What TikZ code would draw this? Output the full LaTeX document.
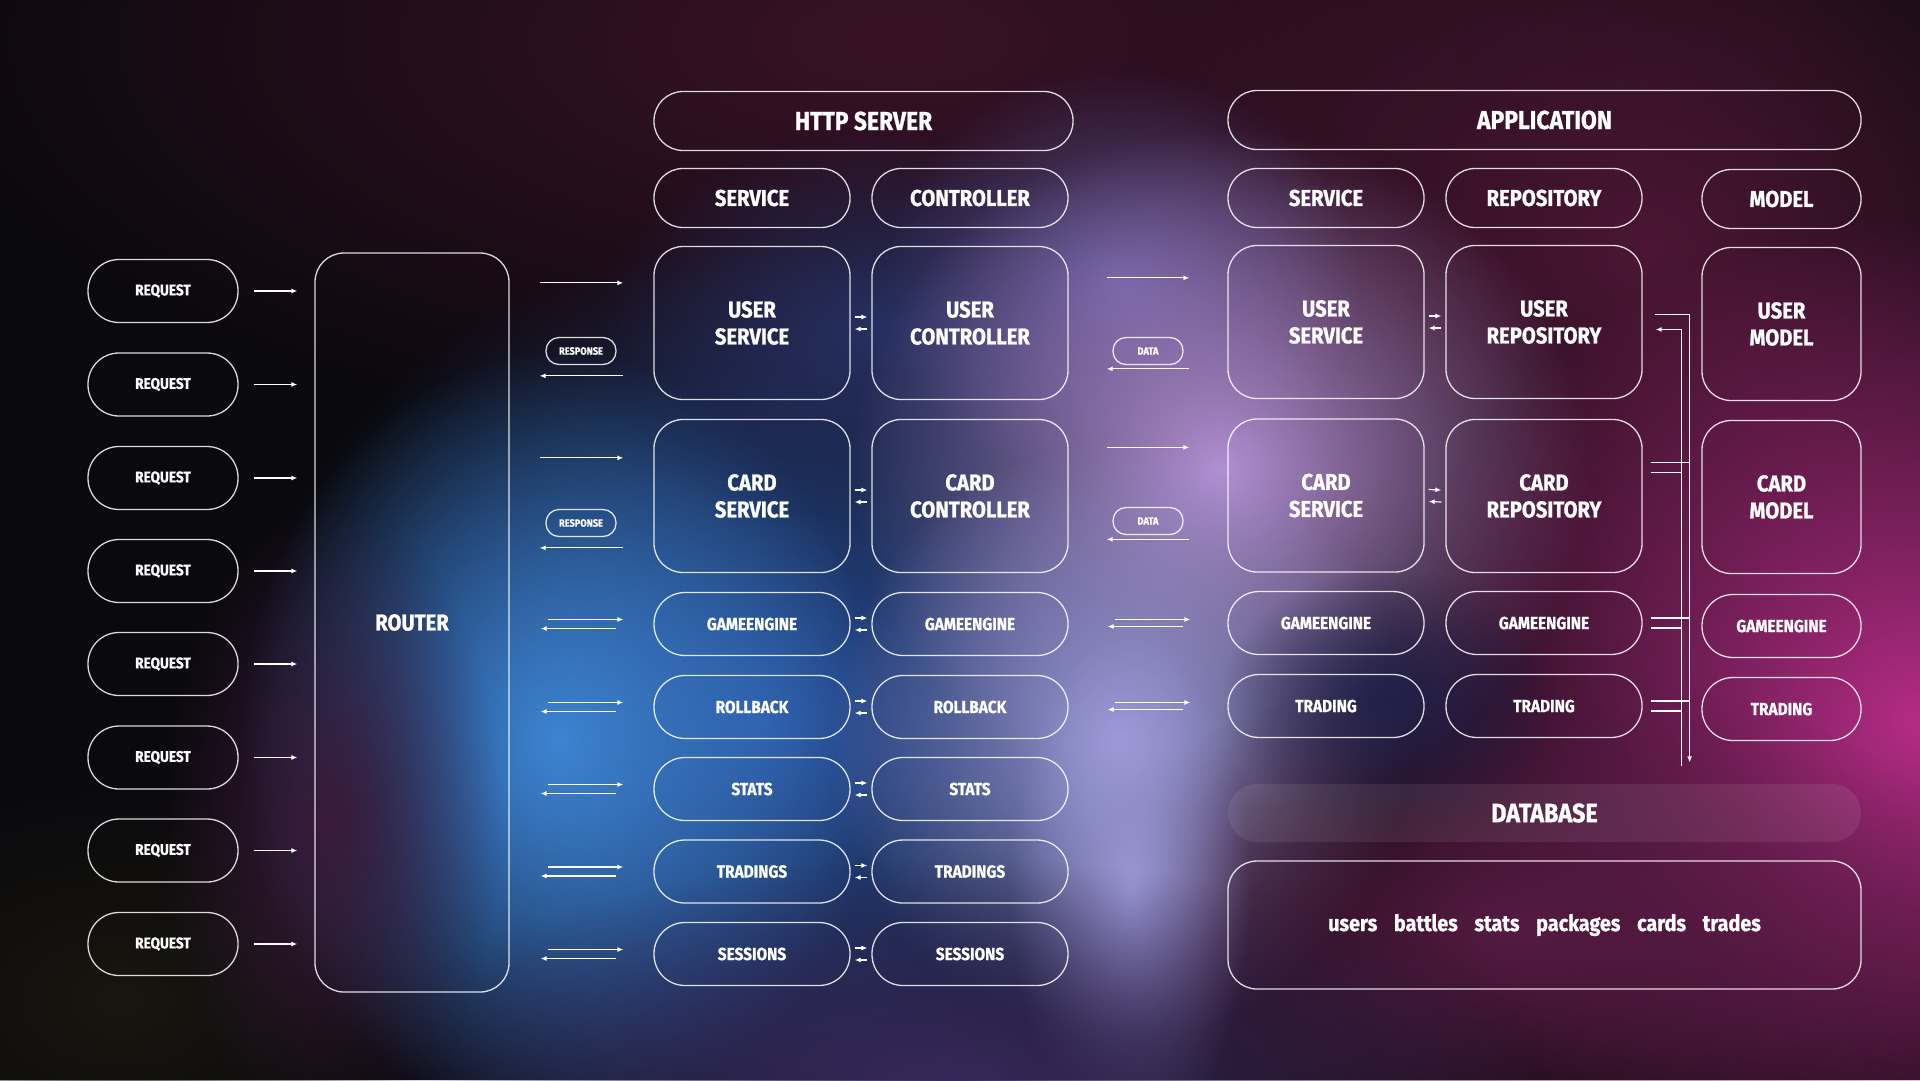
\documentclass[tikz,border=0pt]{standalone}
\usepackage{fontspec}
\setmainfont{Fira Sans}[FakeStretch=0.88, FakeBold=1.2]
\usetikzlibrary{arrows.meta,calc,fadings}

\definecolor{bgbase}{HTML}{0A090D}
\definecolor{maroon}{HTML}{3A1228}
\definecolor{wine}{HTML}{4C1634}
\definecolor{skyblue}{HTML}{3D84D2}
\definecolor{deepblue}{HTML}{2A52A0}
\definecolor{inkblue}{HTML}{263062}
\definecolor{lavender}{HTML}{B390D4}
\definecolor{periwinkle}{HTML}{9C9AD8}
\definecolor{haze}{HTML}{5A5090}
\definecolor{magenta}{HTML}{B52C86}
\definecolor{berry}{HTML}{561A42}
\definecolor{navy}{HTML}{22204A}
\definecolor{plum}{HTML}{38285A}
\definecolor{rosewood}{HTML}{3A1A3A}
\definecolor{olive}{HTML}{17160F}

\tikzfading[name=glow, inner color=transparent!0, outer color=transparent!100]

\tikzset{
  frame/.style={draw=white, draw opacity=0.85, line width=1.3pt, text=white,
    align=center, inner sep=0pt, rounded corners=29pt},
  bigbox/.style={frame, minimum width=196pt, minimum height=153pt,
    font=\bfseries\fontsize{23}{27}\selectfont},
  header/.style={frame, minimum height=59pt, font=\bfseries\fontsize{23}{27}\selectfont},
  topheader/.style={header, font=\bfseries\fontsize{26}{30}\selectfont},
  pill/.style={frame, minimum width=196pt, minimum height=63pt, rounded corners=31pt,
    font=\bfseries\fontsize{17.5}{20}\selectfont},
  request/.style={pill, minimum width=150pt, font=\bfseries\fontsize{15.5}{18}\selectfont},
  tag/.style={frame, minimum width=70pt, minimum height=27pt, rounded corners=13pt,
    font=\bfseries\fontsize{10.5}{12}\selectfont},
  flow/.style={draw=white, line width=1.2pt, ->, >={Latex[length=6pt,width=5pt]}},
  bus/.style={draw=white, line width=1.2pt}
}

\begin{document}
\begin{tikzpicture}[x=1pt, y=-1pt]
    % Фон
    \useasboundingbox (0,0) rectangle (1920,1080);
    \fill[bgbase] (0,0) rectangle (1920,1080);
    \fill[olive, path fading=glow] (120,1000) ellipse [x radius=320pt, y radius=220pt];
    \fill[maroon, path fading=glow] (900,40) ellipse [x radius=1000pt, y radius=420pt];
    \fill[wine, path fading=glow] (1650,250) ellipse [x radius=560pt, y radius=500pt];
    \fill[deepblue, path fading=glow] (760,720) ellipse [x radius=520pt, y radius=480pt];
    \fill[skyblue, path fading=glow] (560,740) ellipse [x radius=320pt, y radius=390pt];
    \fill[rosewood, path fading=glow] (330,820) ellipse [x radius=170pt, y radius=320pt];
    \fill[inkblue, path fading=glow] (880,330) ellipse [x radius=280pt, y radius=200pt];
    \fill[haze, path fading=glow] (1120,280) ellipse [x radius=240pt, y radius=210pt];
    \fill[lavender, path fading=glow] (1220,470) ellipse [x radius=370pt, y radius=340pt];
    \fill[periwinkle, path fading=glow] (1120,740) ellipse [x radius=290pt, y radius=300pt];
    \fill[magenta, path fading=glow] (1920,720) ellipse [x radius=540pt, y radius=500pt];
    \fill[berry, path fading=glow] (1520,930) ellipse [x radius=480pt, y radius=260pt];
    \fill[navy, path fading=glow] (1390,700) ellipse [x radius=170pt, y radius=130pt];
    \fill[periwinkle, path fading=glow] (1130,890) ellipse [x radius=120pt, y radius=260pt];
    \fill[plum, path fading=glow] (950,1080) ellipse [x radius=600pt, y radius=220pt];

    % Запросы
    \node[request] (rq1) at (163,291) {REQUEST};
    \node[request] (rq2) at (163,384.5) {REQUEST};
    \node[request] (rq3) at (163,478) {REQUEST};
    \node[request] (rq4) at (163,571) {REQUEST};
    \node[request] (rq5) at (163,664) {REQUEST};
    \node[request] (rq6) at (163,757.5) {REQUEST};
    \node[request] (rq7) at (163,850.5) {REQUEST};
    \node[request] (rq8) at (163,944) {REQUEST};
    \node[frame, minimum width=194pt, minimum height=739pt,
      font=\bfseries\fontsize{23}{27}\selectfont] (router) at (412,622.5) {ROUTER};

    % HTTP server
    \node[topheader, minimum width=419pt] (http) at (863.5,121) {HTTP SERVER};
    \node[header, minimum width=196pt] (hsvc) at (752,198) {SERVICE};
    \node[header, minimum width=196pt] (hctrl) at (970,198) {CONTROLLER};
    \node[bigbox] (usvc) at (752,323) {USER\\SERVICE};
    \node[bigbox] (uctrl) at (970,323) {USER\\CONTROLLER};
    \node[bigbox] (csvc) at (752,496) {CARD\\SERVICE};
    \node[bigbox] (cctrl) at (970,496) {CARD\\CONTROLLER};
    \node[pill] (sge) at (752,624) {GAMEENGINE};
    \node[pill] (cge) at (970,624) {GAMEENGINE};
    \node[pill] (srb) at (752,707) {ROLLBACK};
    \node[pill] (crb) at (970,707) {ROLLBACK};
    \node[pill] (sst) at (752,789) {STATS};
    \node[pill] (cst) at (970,789) {STATS};
    \node[pill] (str) at (752,871.5) {TRADINGS};
    \node[pill] (ctr) at (970,871.5) {TRADINGS};
    \node[pill] (sse) at (752,954) {SESSIONS};
    \node[pill] (cse) at (970,954) {SESSIONS};
    \node[tag] (resp1) at (581,351) {RESPONSE};
    \node[tag] (resp2) at (581,523) {RESPONSE};

    % Application
    \node[topheader, minimum width=633pt] (app) at (1544.5,120) {APPLICATION};
    \node[header, minimum width=196pt] (asvch) at (1326,198) {SERVICE};
    \node[header, minimum width=196pt] (repoh) at (1544,198) {REPOSITORY};
    \node[header, minimum width=159pt] (modelh) at (1781.5,199) {MODEL};
    \node[bigbox] (ausvc) at (1326,322) {USER\\SERVICE};
    \node[bigbox] (urepo) at (1544,322) {USER\\REPOSITORY};
    \node[bigbox, minimum width=159pt] (umodel) at (1781.5,324) {USER\\MODEL};
    \node[bigbox] (acsvc) at (1326,495.5) {CARD\\SERVICE};
    \node[bigbox] (crepo) at (1544,496) {CARD\\REPOSITORY};
    \node[bigbox, minimum width=159pt] (cmodel) at (1781.5,497) {CARD\\MODEL};
    \node[pill] (age) at (1326,623) {GAMEENGINE};
    \node[pill] (rge) at (1544,623) {GAMEENGINE};
    \node[pill, minimum width=159pt] (mge) at (1781.5,626) {GAMEENGINE};
    \node[pill] (atr) at (1326,706) {TRADING};
    \node[pill] (rtr) at (1544,706) {TRADING};
    \node[pill, minimum width=159pt] (mtr) at (1781.5,709) {TRADING};
    \node[tag] (data1) at (1148,351) {DATA};
    \node[tag] (data2) at (1148,521) {DATA};

    % Database
    \node[frame, draw=none, fill=white, fill opacity=0.08, text opacity=1,
      minimum width=633pt, minimum height=58pt,
      font=\bfseries\fontsize{26.5}{30}\selectfont] (dbhead) at (1544.5,813) {DATABASE};
    \node[frame, minimum width=633pt, minimum height=128pt,
      font=\bfseries\fontsize{22.5}{26}\selectfont] (db) at (1544.5,925)
      {users\hspace{12pt} battles\hspace{12pt} stats\hspace{12pt} packages\hspace{12pt} cards\hspace{12pt} trades};

    % Запросы -> router
    \draw[flow, shorten <=15pt, shorten >=17pt] (rq1.east) -- (rq1.east -| router.west);
    \draw[flow, shorten <=15pt, shorten >=17pt] (rq2.east) -- (rq2.east -| router.west);
    \draw[flow, shorten <=15pt, shorten >=17pt] (rq3.east) -- (rq3.east -| router.west);
    \draw[flow, shorten <=15pt, shorten >=17pt] (rq4.east) -- (rq4.east -| router.west);
    \draw[flow, shorten <=15pt, shorten >=17pt] (rq5.east) -- (rq5.east -| router.west);
    \draw[flow, shorten <=15pt, shorten >=17pt] (rq6.east) -- (rq6.east -| router.west);
    \draw[flow, shorten <=15pt, shorten >=17pt] (rq7.east) -- (rq7.east -| router.west);
    \draw[flow, shorten <=15pt, shorten >=17pt] (rq8.east) -- (rq8.east -| router.west);

    % Router <-> service
    \draw[flow] ($(router.east |- usvc.north)+(30,37)$) -- ($(usvc.north west)+(-30,37)$);
    \draw[flow] ($(usvc.north west)+(-30,130)$) -- ($(router.east |- usvc.north)+(30,130)$);
    \draw[flow] ($(router.east |- csvc.north)+(30,39)$) -- ($(csvc.north west)+(-30,39)$);
    \draw[flow] ($(csvc.north west)+(-30,129)$) -- ($(router.east |- csvc.north)+(30,129)$);
    \draw[flow] ($(router.east |- sge.west)+(38,-4.5)$) -- ($(sge.west)+(-30,-4.5)$);
    \draw[flow] ($(sge.west)+(-37,4.5)$) -- ($(router.east |- sge.west)+(31,4.5)$);
    \draw[flow] ($(router.east |- srb.west)+(38,-4.5)$) -- ($(srb.west)+(-30,-4.5)$);
    \draw[flow] ($(srb.west)+(-37,4.5)$) -- ($(router.east |- srb.west)+(31,4.5)$);
    \draw[flow] ($(router.east |- sst.west)+(38,-4.5)$) -- ($(sst.west)+(-30,-4.5)$);
    \draw[flow] ($(sst.west)+(-37,4.5)$) -- ($(router.east |- sst.west)+(31,4.5)$);
    \draw[flow] ($(router.east |- str.west)+(38,-4.5)$) -- ($(str.west)+(-30,-4.5)$);
    \draw[flow] ($(str.west)+(-37,4.5)$) -- ($(router.east |- str.west)+(31,4.5)$);
    \draw[flow] ($(router.east |- sse.west)+(38,-4.5)$) -- ($(sse.west)+(-30,-4.5)$);
    \draw[flow] ($(sse.west)+(-37,4.5)$) -- ($(router.east |- sse.west)+(31,4.5)$);

    % Service <-> controller
    \draw[flow] ($(usvc.east)+(4,-6)$) -- ($(uctrl.west)+(-4,-6)$);
    \draw[flow] ($(uctrl.west)+(-4,6)$) -- ($(usvc.east)+(4,6)$);
    \draw[flow] ($(csvc.east)+(4,-6)$) -- ($(cctrl.west)+(-4,-6)$);
    \draw[flow] ($(cctrl.west)+(-4,6)$) -- ($(csvc.east)+(4,6)$);
    \draw[flow] ($(sge.east)+(4,-6)$) -- ($(cge.west)+(-4,-6)$);
    \draw[flow] ($(cge.west)+(-4,6)$) -- ($(sge.east)+(4,6)$);
    \draw[flow] ($(srb.east)+(4,-6)$) -- ($(crb.west)+(-4,-6)$);
    \draw[flow] ($(crb.west)+(-4,6)$) -- ($(srb.east)+(4,6)$);
    \draw[flow] ($(sst.east)+(4,-6)$) -- ($(cst.west)+(-4,-6)$);
    \draw[flow] ($(cst.west)+(-4,6)$) -- ($(sst.east)+(4,6)$);
    \draw[flow] ($(str.east)+(4,-6)$) -- ($(ctr.west)+(-4,-6)$);
    \draw[flow] ($(ctr.west)+(-4,6)$) -- ($(str.east)+(4,6)$);
    \draw[flow] ($(sse.east)+(4,-6)$) -- ($(cse.west)+(-4,-6)$);
    \draw[flow] ($(cse.west)+(-4,6)$) -- ($(sse.east)+(4,6)$);

    % Controller <-> application
    \draw[flow] ($(uctrl.east |- ausvc.north)+(38,33)$) -- ($(ausvc.north west)+(-38,33)$);
    \draw[flow] ($(ausvc.north west)+(-38,124)$) -- ($(uctrl.east |- ausvc.north)+(38,124)$);
    \draw[flow] ($(cctrl.east |- acsvc.north)+(38,29)$) -- ($(acsvc.north west)+(-38,29)$);
    \draw[flow] ($(acsvc.north west)+(-38,121)$) -- ($(cctrl.east |- acsvc.north)+(38,121)$);
    \draw[flow] ($(cge.east |- age.west)+(46,-3.5)$) -- ($(age.west)+(-37,-3.5)$);
    \draw[flow] ($(age.west)+(-44,3.5)$) -- ($(cge.east |- age.west)+(39,3.5)$);
    \draw[flow] ($(crb.east |- atr.west)+(46,-3.5)$) -- ($(atr.west)+(-37,-3.5)$);
    \draw[flow] ($(atr.west)+(-44,3.5)$) -- ($(crb.east |- atr.west)+(39,3.5)$);

    % Service <-> repository
    \draw[flow] ($(ausvc.east)+(4,-6)$) -- ($(urepo.west)+(-4,-6)$);
    \draw[flow] ($(urepo.west)+(-4,6)$) -- ($(ausvc.east)+(4,6)$);
    \draw[flow] ($(acsvc.east)+(4,-6)$) -- ($(crepo.west)+(-4,-6)$);
    \draw[flow] ($(crepo.west)+(-4,6)$) -- ($(acsvc.east)+(4,6)$);

    % Repository <-> database
    \draw[flow] ($(urepo.east)+(12,-7.5)$) -| ($(dbhead.north -| urepo.east)+(47,-21)$);
    \draw[flow] ($(dbhead.north -| urepo.east)+(39,-17)$) |- ($(urepo.east)+(13,7.5)$);
    \draw[bus] ($(crepo.east)+(8,-33.5)$) -- ($(crepo.east)+(47,-33.5)$);
    \draw[bus] ($(crepo.east)+(8,-23.5)$) -- ($(crepo.east)+(39,-23.5)$);
    \draw[bus] ($(rge.east)+(8,-5)$) -- ($(rge.east)+(47,-5)$);
    \draw[bus] ($(rge.east)+(8,5)$) -- ($(rge.east)+(39,5)$);
    \draw[bus] ($(rtr.east)+(8,-5)$) -- ($(rtr.east)+(47,-5)$);
    \draw[bus] ($(rtr.east)+(8,5)$) -- ($(rtr.east)+(39,5)$);
\end{tikzpicture}
\end{document}
